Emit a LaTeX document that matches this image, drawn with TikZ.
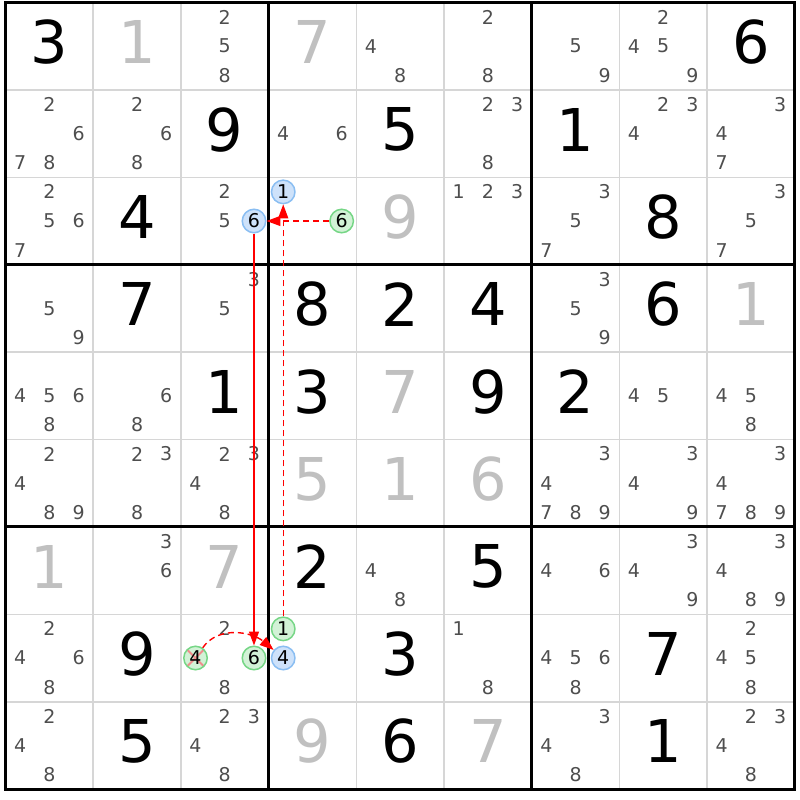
\documentclass[tikz,border=0pt]{standalone}
\usepackage{fontspec}
\setmainfont{DejaVu Sans}
\usetikzlibrary{arrows.meta}
\definecolor{fadedgrey}{RGB}{192,192,192}
\definecolor{candgrey}{RGB}{78,78,78}
\definecolor{thingrey}{RGB}{214,214,214}
\definecolor{bluefill}{RGB}{206,226,250}
\definecolor{bluering}{RGB}{138,190,242}
\definecolor{greenfill}{RGB}{210,242,214}
\definecolor{greenring}{RGB}{118,214,134}
\definecolor{crossred}{RGB}{240,140,140}
\begin{document}
\begin{tikzpicture}[x=87.7pt,y=-87.4pt]
      \tikzset{given/.style={inner sep=0pt,font=\fontsize{59}{59}\selectfont,yshift=4pt},
               faded/.style={given,text=fadedgrey},
               cand/.style={inner sep=0pt,font=\fontsize{19}{19}\selectfont,text=candgrey},
               bluecand/.style={cand,circle,minimum size=23.5pt,text=black,draw=bluering,fill=bluefill,line width=1.5pt},
               greencand/.style={bluecand,draw=greenring,fill=greenfill},
               greencross/.style={greencand,path picture={
                  \draw[crossred,line width=2pt] (path picture bounding box.north west)--(path picture bounding box.south east)
                     (path picture bounding box.north east)--(path picture bounding box.south west);}},
               strong/.style={red,line width=1.4pt,-{Triangle[length=14pt,width=10pt]}},
               weak/.style={strong,dash pattern=on 6pt off 4pt}}
       \useasboundingbox (-5.5pt,2.5pt) rectangle ++(800pt,-800pt);

        \foreach \i in {1,...,8}
        \draw[thingrey,line width=1.6pt] (\i,0)--(\i,9) (0,\i)--(9,\i);
        \foreach \i in {3,6}
        \draw[line width=3pt] (\i,0)--(\i,9) (0,\i)--(9,\i);
        \draw[line width=3pt] (0,0) rectangle (9,9);

        \foreach \i/\j/\k in {1/1/3,1/9/6,2/3/9,2/5/5,2/7/1,3/2/4,3/8/8,4/2/7,4/4/8,4/5/2,4/6/4,4/8/6,
                              5/3/1,5/4/3,5/6/9,5/7/2,7/4/2,7/6/5,8/2/9,8/5/3,8/8/7,9/2/5,9/5/6,9/8/1}
        \node[given] (g\i\j) at (\j-0.5,\i-0.5) {\k};
        \foreach \i/\j/\k in {1/2/1,1/4/7,3/5/9,4/9/1,5/5/7,6/4/5,6/5/1,6/6/6,7/1/1,7/3/7,9/4/9,9/6/7}
        \node[faded] (g\i\j) at (\j-0.5,\i-0.5) {\k};

        \foreach \i/\j/\ls in {1/3/{2,5,8},1/5/{4,8},1/6/{2,8},1/7/{5,9},1/8/{2,4,5,9},
                               2/1/{2,6,7,8},2/2/{2,6,8},2/4/{4,6},2/6/{2,3,8},2/8/{2,3,4},2/9/{3,4,7},
                               3/1/{2,5,6,7},3/3/{2,5},3/6/{1,2,3},3/7/{3,5,7},3/9/{3,5,7},
                               4/1/{5,9},4/3/{3,5},4/7/{3,5,9},
                               5/1/{4,5,6,8},5/2/{6,8},5/8/{4,5},5/9/{4,5,8},
                               6/1/{2,4,8,9},6/2/{2,3,8},6/3/{2,3,4,8},6/7/{3,4,7,8,9},6/8/{3,4,9},6/9/{3,4,7,8,9},
                               7/2/{3,6},7/5/{4,8},7/7/{4,6},7/8/{3,4,9},7/9/{3,4,8,9},
                               8/1/{2,4,6,8},8/3/{2,8},8/6/{1,8},8/7/{4,5,6,8},8/9/{2,4,5,8},
                               9/1/{2,4,8},9/3/{2,3,4,8},9/7/{3,4,8},9/9/{2,3,4,8}}
        {\foreach \k in \ls
          \node[cand] (n\i\j\k) at ({\j-1+(mod(\k-1,3)+0.5)/3},{\i-1+(floor((\k-1)/3)+0.5)/3}) {\k};}

        \foreach \i/\j/\k/\s in {3/3/6/bluecand,3/4/1/bluecand,3/4/6/greencand,8/3/4/greencross,
                                 8/3/6/greencand,8/4/1/greencand,8/4/4/bluecand}
        \node[\s] (n\i\j\k) at ({\j-1+(mod(\k-1,3)+0.5)/3},{\i-1+(floor((\k-1)/3)+0.5)/3}) {\k};

       \draw[strong] (n336)--(n836);
       \draw[weak] (n346)--(n336);
       \draw[weak] (n841)--(n341);
       \draw[weak] (n834) to[out=55,in=140] (n844);
    \end{tikzpicture}
\end{document}
